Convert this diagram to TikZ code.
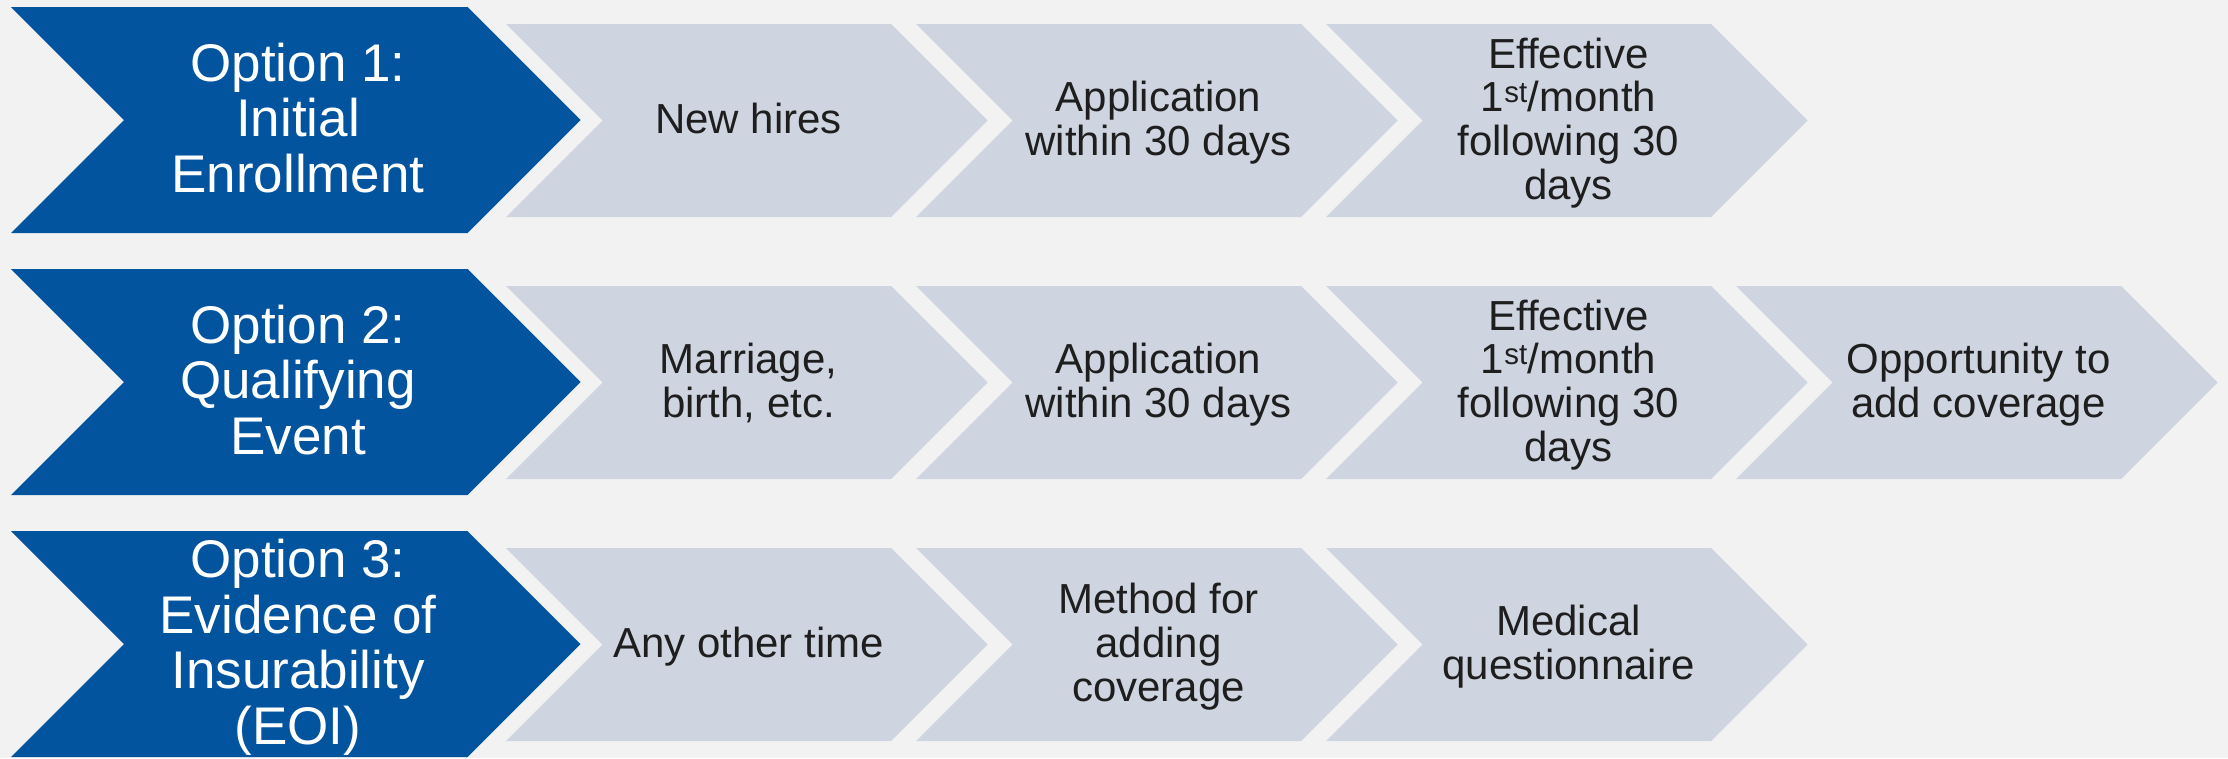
\documentclass[tikz,border=0pt]{standalone}
\usepackage{fontspec}
\setmainfont{Liberation Sans}
\definecolor{bgc}{HTML}{F2F2F2}
\definecolor{navy}{HTML}{02549F}
\definecolor{pale}{HTML}{CED4E0}
\definecolor{ink}{HTML}{1E1E1E}
\newcommand\stack[1]{\vbox{\lineskiplimit=-1000pt\halign{\hfil##\hfil\cr#1\crcr}}}
% fill colour, left x, top y, width of straight part, height
\newcommand\chevron[5]{\fill[#1] (#2,#3) -- ++(#4,0) -- ++(#5/2,#5/2) -- ++(-#5/2,#5/2) -- ++(-#4,0) -- ++(#5/2,-#5/2) -- cycle;}
\tikzset{
  opt/.style={inner sep=0pt, text=white, font=\fontsize{53}{55.5}\selectfont, text depth=0pt},
  stp/.style={inner sep=0pt, text=ink, font=\fontsize{42}{43.7}\selectfont, text depth=0pt},
  l1/.style={text height=30.1pt},
  l2/.style={text height=73.8pt},
  l3/.style={text height=117.5pt},
  l4/.style={text height=161.2pt},
  b3/.style={text height=148.9pt},
  b4/.style={text height=204.4pt}
}
\begin{document}
\begin{tikzpicture}[x=1pt,y=-1pt]
\fill[bgc] (0,0) rectangle (2228,758);
\useasboundingbox (0,0) rectangle (2228,758);
% row 1
\chevron{navy}{11}{7}{456.5}{226}
\chevron{pale}{506}{24}{385}{193}
\chevron{pale}{916}{24}{385}{193}
\chevron{pale}{1326}{24}{385}{193}
% row 2
\chevron{navy}{11}{269}{456.5}{226}
\chevron{pale}{506}{286}{385}{193}
\chevron{pale}{916}{286}{385}{193}
\chevron{pale}{1326}{286}{385}{193}
\chevron{pale}{1736}{286}{385}{193}
% row 3
\chevron{navy}{11}{531}{456.5}{226}
\chevron{pale}{506}{548}{385}{193}
\chevron{pale}{916}{548}{385}{193}
\chevron{pale}{1326}{548}{385}{193}
% texts row 1
\node[opt,b3] (o1) at (298,118) {\stack{Option 1:\cr Initial\cr Enrollment}};
\node[stp,l1] (a1) at (748.5,118.5) {\stack{New hires}};
\node[stp,l2] (a2) at (1158.5,118.5) {\stack{Application\cr within 30 days}};
\node[stp,l4] (a3) at (1568.5,118.5) {\stack{Effective\cr 1\textsuperscript{st}/month\cr following 30\cr days}};
% texts row 2
\node[opt,b3] (o2) at (298,380) {\stack{Option 2:\cr Qualifying\cr Event}};
\node[stp,l2] (b1) at (748.5,380.5) {\stack{Marriage,\cr birth, etc.}};
\node[stp,l2] (b2) at (1158.5,380.5) {\stack{Application\cr within 30 days}};
\node[stp,l4] (b3) at (1568.5,380.5) {\stack{Effective\cr 1\textsuperscript{st}/month\cr following 30\cr days}};
\node[stp,l2] (b4) at (1978.5,380.5) {\stack{Opportunity to\cr add coverage}};
% texts row 3
\node[opt,b4] (o3) at (298,642) {\stack{Option 3:\cr Evidence of\cr Insurability\cr (EOI)}};
\node[stp,l1] (c1) at (748.5,642.5) {\stack{Any other time}};
\node[stp,l3] (c2) at (1158.5,642.5) {\stack{Method for\cr adding\cr coverage}};
\node[stp,l2] (c3) at (1568.5,642.5) {\stack{Medical\cr questionnaire}};
\end{tikzpicture}
\end{document}
